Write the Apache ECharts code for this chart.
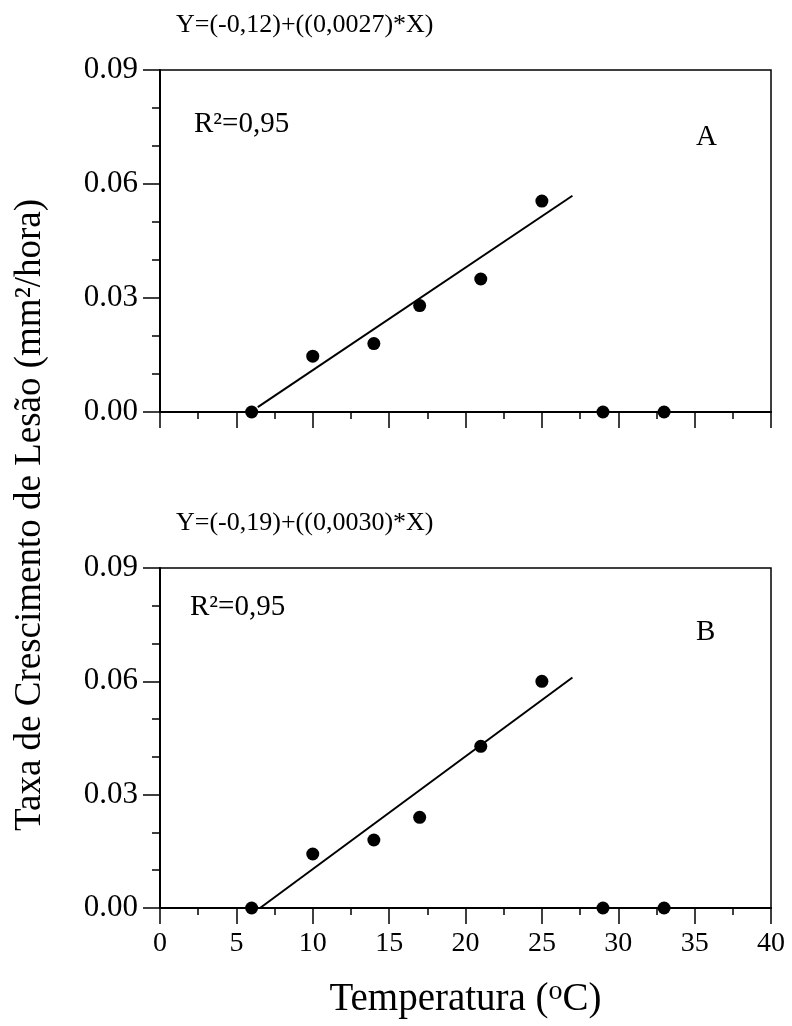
<!DOCTYPE html>
<html>
<head>
<meta charset="utf-8">
<script src="https://cdn.jsdelivr.net/npm/echarts@6/dist/echarts.min.js"></script>
<style>
    html, body { margin: 0; padding: 0; background: #fff; }
    #main { width: 792px; height: 1026px; }
</style>
</head>
<body>
<div id="main"></div>
<script>
// temperaturas (oC)
const temps = [6, 10, 14, 17, 21, 25, 29, 33];
// taxa de crescimento, painel A e B
const rateA = [0.000, 0.0147, 0.018, 0.028, 0.035, 0.0555, 0.000, 0.000];
const rateB = [0.000, 0.0143, 0.018, 0.024, 0.0428, 0.060, 0.000, 0.000];
// retas ajustadas (pontos extremos)
const fitA = [[6.4, 0.0013], [27, 0.0569]];
const fitB = [[6.55, 0.0], [27, 0.061]];
const xTicks = [0, 5, 10, 15, 20, 25, 30, 35, 40];
const yTicks = [0.00, 0.03, 0.06, 0.09];

window.addEventListener('load', function () {
    let chart = echarts.init(document.getElementById('main'));
    const font = '"Liberation Serif", "Times New Roman", serif';

    function xAx(idx, labels) {
        return {
            type: 'value', gridIndex: idx,
            min: xTicks[0], max: xTicks[xTicks.length - 1], interval: 5,
            axisLine: { show: true, onZero: false, lineStyle: { color: '#000', width: 2 } },
            axisTick: { show: true, inside: false, length: 16, lineStyle: { color: '#000', width: 1.5 } },
            minorTick: { show: true, splitNumber: 2, length: 7, lineStyle: { color: '#000', width: 1.5 } },
            axisLabel: { show: labels, color: '#000', fontFamily: font, fontSize: 28, margin: 22 },
            splitLine: { show: false },
            name: labels ? '{a|Temperatura (}{s|o}{a|C)}' : '',
            nameLocation: 'middle', nameGap: 70,
            nameTextStyle: {
                rich: {
                    a: { fontFamily: font, fontSize: 39, color: '#000' },
                    s: { fontFamily: font, fontSize: 28, color: '#000', verticalAlign: 'top', padding: [0, 0, 16, 0] }
                }
            }
        };
    }
    function yAx(idx) {
        return {
            type: 'value', gridIndex: idx,
            min: yTicks[0], max: yTicks[yTicks.length - 1], interval: 0.03,
            axisLine: { show: true, lineStyle: { color: '#000', width: 2 } },
            axisTick: { show: true, inside: false, length: 17, lineStyle: { color: '#000', width: 1.5 } },
            minorTick: { show: true, splitNumber: 3, length: 8, lineStyle: { color: '#000', width: 1.5 } },
            axisLabel: { color: '#000', fontFamily: font, fontSize: 31, margin: 22,
                formatter: function (v) { return v.toFixed(2); } },
            splitLine: { show: false }
        };
    }
    function txt(x, y, s, size) {
        return { type: 'text', left: x, top: y,
            style: { text: s, fontFamily: font, fontSize: size, fill: '#000' } };
    }

    let option = {
        animation: false,
        backgroundColor: '#fff',
        grid: [
            { left: 160, right: 21, top: 70, height: 342, show: true, borderColor: '#000', borderWidth: 1.5 },
            { left: 160, right: 21, top: 568, height: 340, show: true, borderColor: '#000', borderWidth: 1.5 }
        ],
        xAxis: [xAx(0, false), xAx(1, true)],
        yAxis: [yAx(0), yAx(1)],
        graphic: [
            txt(176, 12, 'Y=(-0,12)+((0,0027)*X)', 26),
            txt(194, 110, 'R²=0,95', 29),
            txt(696, 123, 'A', 29),
            txt(176, 510, 'Y=(-0,19)+((0,0030)*X)', 26),
            txt(190, 593, 'R²=0,95', 29),
            txt(696, 618, 'B', 29),
            {
                type: 'text', x: 30, y: 515, rotation: Math.PI / 2,
                style: { text: 'Taxa de Crescimento de Lesão (mm²/hora)', fontFamily: font,
                    fontSize: 37, fill: '#000', align: 'center', verticalAlign: 'middle' }
            }
        ],
        series: [
            { type: 'line', xAxisIndex: 0, yAxisIndex: 0, data: fitA, symbol: 'none',
              lineStyle: { color: '#000', width: 2 } },
            { type: 'scatter', xAxisIndex: 0, yAxisIndex: 0, symbolSize: 13,
              itemStyle: { color: '#000', opacity: 1 }, data: temps.map(function (t, i) { return [t, rateA[i]]; }) },
            { type: 'line', xAxisIndex: 1, yAxisIndex: 1, data: fitB, symbol: 'none',
              lineStyle: { color: '#000', width: 2 } },
            { type: 'scatter', xAxisIndex: 1, yAxisIndex: 1, symbolSize: 13,
              itemStyle: { color: '#000', opacity: 1 }, data: temps.map(function (t, i) { return [t, rateB[i]]; }) }
        ]
    };
    chart.setOption(option);
}, false);
</script>
</body>
</html>
